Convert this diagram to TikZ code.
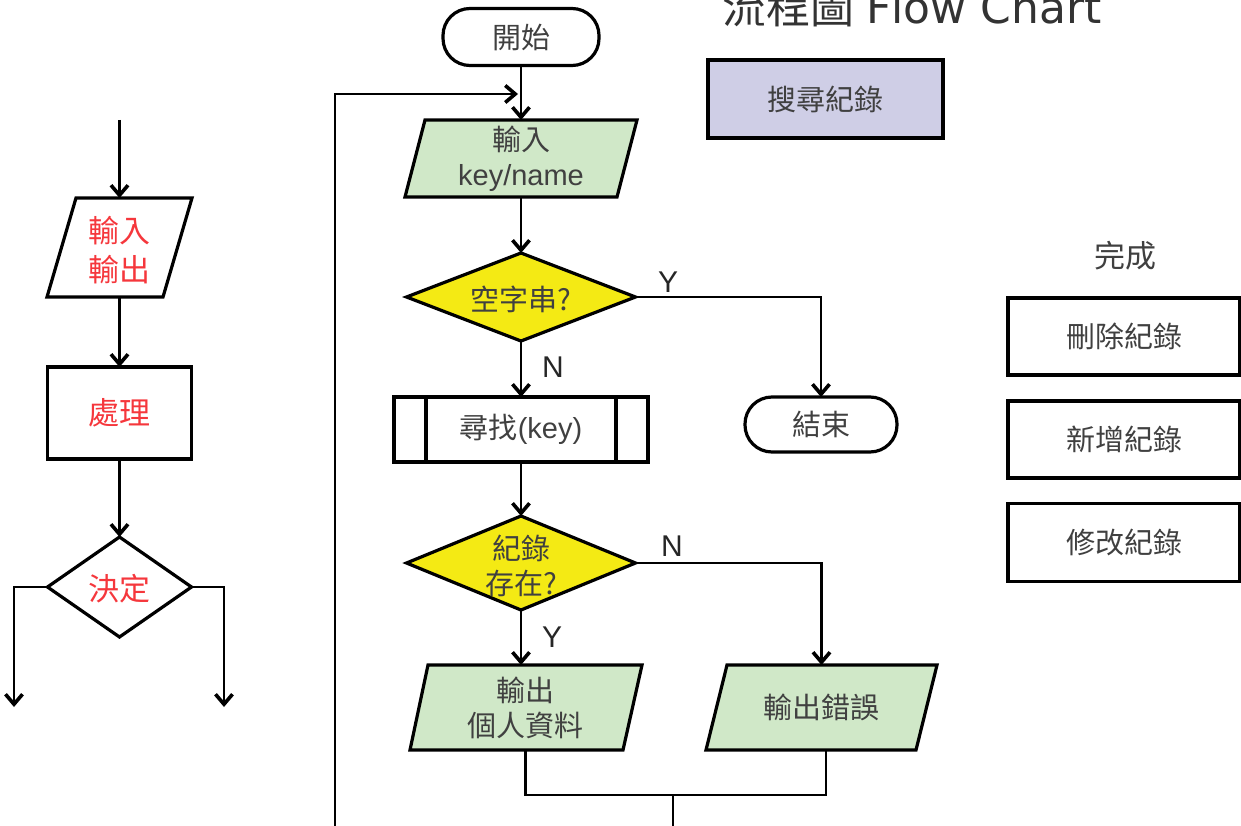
\documentclass[tikz,border=0pt]{standalone}
\usepackage{fontspec}
\setmainfont{Liberation Sans}
\newfontfamily\cjk{Noto Sans CJK TC}
\newfontfamily\dejavu{DejaVu Sans}
\usetikzlibrary{arrows.meta,shapes.geometric}
\definecolor{greenfill}{RGB}{208,232,200}
\definecolor{yellowfill}{RGB}{244,234,20}
\definecolor{lavender}{RGB}{207,206,230}
\definecolor{tgray}{RGB}{64,64,64}
\definecolor{legred}{RGB}{245,55,60}
\begin{document}
\begin{tikzpicture}[x=1pt,y=-1pt,
  border/.style={line width=3.2pt, line join=miter},
  conn/.style={line width=2.7pt, draw=black},
  arr/.style={conn, -{Straight Barb[length=10pt,width=17pt,line width=3.6pt]}},
  box/.style={inner sep=0pt, outer sep=0pt, align=center, text=tgray,
              font=\fontsize{29}{35}\selectfont\cjk},
  txt/.style={inner sep=0pt, outer sep=0pt, align=center, text=tgray,
              font=\fontsize{29}{35}\selectfont\cjk},
  legtxt/.style={inner sep=0pt, outer sep=0pt, align=center, text=legred,
              font=\fontsize{31}{39}\selectfont\cjk},
  yn/.style={inner sep=0pt, text=black!85, font=\fontsize{30}{34}\selectfont},
  rectbox/.style={box, draw, border},
  term/.style={box, draw, border, rounded corners=27pt},
  decision/.style={diamond, draw, border, inner sep=0pt, outer sep=0pt, fill=yellowfill}
]
\useasboundingbox (0,0) rectangle (1241,826);
\clip (0,0) rectangle (1241,826);

% ---------- title ----------
\node[inner sep=0pt, anchor=base west, text=black!80, font=\fontsize{44}{50}\selectfont] (title) at (722,24)
  {{\cjk 流程圖} {\dejavu Flow Chart}};

% ---------- legend (left) ----------
\coordinate (lin) at (119.5,120);
\draw[border] (76,198) -- (192,198) -- (163,297) -- (47,297) -- cycle;
\node[box, minimum width=116, minimum height=99] (io) at (119.5,247.5) {};
\node[legtxt] (iotxt) at (119.5,250) {輸入\\輸出};
\node[rectbox, minimum width=144, minimum height=92, text=legred, font=\fontsize{31}{39}\selectfont\cjk] (proc) at (119.5,413) {處理};
\node[diamond, draw, border, inner sep=0pt, outer sep=0pt, minimum width=144, minimum height=100] (dec) at (119.5,587) {};
\node[legtxt] (dectxt) at (119.5,589) {決定};
\coordinate (ll) at (14,707);
\coordinate (rr) at (224,707);
\draw[arr] (lin) -- (io.north);
\draw[arr] (io.south) -- (proc.north);
\draw[arr] (proc.south) -- (dec.north);
\draw[arr] (dec.west) -| (ll);
\draw[arr] (dec.east) -| (rr);

% ---------- main flow ----------
\node[term, minimum width=156, minimum height=57] (start) at (521,37) {開始};

\filldraw[border, fill=greenfill] (425,120) -- (637,120) -- (617,197) -- (405,197) -- cycle;
\node[box, minimum width=212, minimum height=77] (in1) at (521,158.5) {輸入\\{\rmfamily key/name}};

\coordinate (loopbot) at (335,830);
\coordinate (loopend) at (518,94);
\draw[arr] (loopbot) |- (loopend);
\draw[arr] (start.south) -- (in1.north);

\node[decision, minimum width=229, minimum height=88] (d1) at (521,297) {};
\node[txt] (d1txt) at (521,299) {空字串?};
\draw[arr] (in1.south) -- (d1.north);

\node[rectbox, minimum width=254, minimum height=65] (pp) at (521,429.5) {尋找{\rmfamily(key)}};
\draw[border] ([xshift=32pt]pp.north west) -- ([xshift=32pt]pp.south west);
\draw[border] ([xshift=-32pt]pp.north east) -- ([xshift=-32pt]pp.south east);

\node[term, minimum width=152, minimum height=55] (end) at (821,424.5) {結束};

\draw[arr] (d1.east) -| (end.north);
\node[yn] (y1) at (668,282) {Y};
\draw[arr] (d1.south) -- (pp.north);
\node[yn] (n1) at (553,367) {N};

\node[decision, minimum width=229, minimum height=94] (d2) at (521,563) {};
\node[txt] (d2txt) at (521,566) {紀錄\\存在?};
\draw[arr] (pp.south) -- (d2.north);

\filldraw[border, fill=greenfill] (428,665) -- (642,665) -- (623,750) -- (410,750) -- cycle;
\node[box, minimum width=214, minimum height=85] (out1) at (525.75,707.5) {輸出\\個人資料};

\filldraw[border, fill=greenfill] (727,665) -- (937,665) -- (916,750) -- (706,750) -- cycle;
\node[box, minimum width=210, minimum height=85] (out2) at (821.5,707.5) {輸出錯誤};

\draw[arr] (d2.east) -| (out2.north);
\node[yn] (n2) at (672,546) {N};
\draw[arr] (d2.south) -- (d2.south |- out1.north);
\node[yn] (y2) at (552,637) {Y};

\coordinate (j) at (673,795);
\coordinate (jb) at (673,830);
\draw[conn] (out1.south) |- (j);
\draw[conn] ([xshift=4.5pt]out2.south) |- (j);
\draw[conn] (j) -- (jb);

% ---------- right side ----------
\node[rectbox, fill=lavender, minimum width=235, minimum height=78] (search) at (825.5,99) {搜尋紀錄};
\node[inner sep=0pt, text=tgray, font=\fontsize{31}{36}\selectfont\cjk] (done) at (1125,256) {完成};
\node[rectbox, minimum width=232, minimum height=77] (del) at (1124,336.5) {刪除紀錄};
\node[rectbox, minimum width=232, minimum height=77] (add) at (1124,439.5) {新增紀錄};
\node[rectbox, minimum width=232, minimum height=78] (mod) at (1124,542.5) {修改紀錄};
\end{tikzpicture}
\end{document}
